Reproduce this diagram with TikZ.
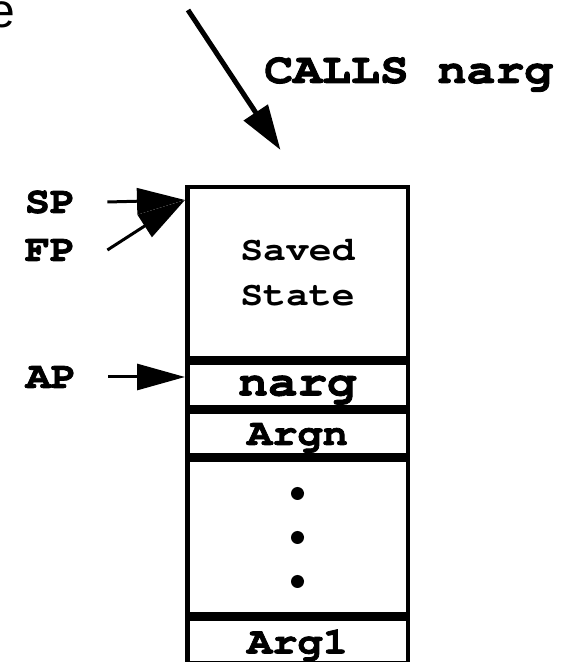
\documentclass[tikz,border=0pt]{standalone}
\usepackage{fontspec}
\newfontfamily\stackfont[Extension=.otf, UprightFont=*-regular, BoldFont=*-bold,
  FakeStretch=1.12]{texgyrecursor}
\newfontfamily\stackheavy[Extension=.otf, UprightFont=*-bold,
  FakeStretch=1.12, FakeBold=2]{texgyrecursor}
\newfontfamily\helvfont{Liberation Sans}
\usetikzlibrary{positioning,arrows.meta}
\tikzset{
  cell/.style={draw, line width=4.5pt, minimum width=220.5pt, inner sep=0pt},
  argcell/.style={text depth=0pt, font=\stackheavy\fontsize{37.5}{42}\selectfont},
  ptrlabel/.style={inner sep=0pt, font=\stackheavy\fontsize{37.5}{42}\selectfont},
  ptr/.style={line width=3pt, -{Triangle[length=48pt,width=26pt]}}
}
\begin{document}
\begin{tikzpicture}[x=1pt,y=1pt]
    \useasboundingbox (0,0) rectangle (561,662);

    \node [anchor=base east, inner sep=0pt, font=\helvfont\fontsize{48}{52}\selectfont] (cut) at (15,634) {e};

    % the stack frame
    \node [cell, minimum height=171.5pt, align=center,
      font=\stackfont\bfseries\fontsize{34}{45}\selectfont] (saved) at (297.5,389) {Saved\\State};
    \node [cell, argcell, minimum height=44.5pt,
      font=\stackheavy\fontsize{44}{48}\selectfont, below=0pt of saved] (narg) {narg};
    \node [cell, argcell, minimum height=43.5pt, below=0pt of narg] (argn) {Argn};
    \node [cell, minimum height=154.5pt, below=0pt of argn] (dots) {};
    \node [cell, argcell, minimum height=44.5pt, below=0pt of dots] (arg1) {Arg1};

    \fill ([yshift=44pt]dots.center) circle (6.5pt);
    \fill (dots.center) circle (6.5pt);
    \fill ([yshift=-44pt]dots.center) circle (6.5pt);

    % pointers
    \node [ptrlabel] (sp) at (50,460) {SP};
    \node [ptrlabel] (fp) at (50,412) {FP};
    \node [ptrlabel] (ap) at (51,285) {AP};
    \coordinate (stacktop) at ([yshift=-15pt]saved.north west);

    \draw [ptr] ([xshift=32pt]sp.east) -- (stacktop);
    \draw [ptr] ([xshift=32pt]fp.east) -- (stacktop);
    \draw [ptr] ([xshift=32pt]ap.east) -- (ap -| narg.west);

    % the call
    \coordinate (callfrom) at (188,652);
    \coordinate (callto) at ([xshift=-17pt,yshift=35pt]saved.north);
    \draw [line width=5pt, -{Triangle[length=45pt,width=28pt]}] (callfrom) -- (callto);
    \node [anchor=base west, inner sep=0pt,
      font=\stackheavy\fontsize{43}{47}\selectfont] (calls) at (264,579) {CALLS narg};
  \end{tikzpicture}
\end{document}
